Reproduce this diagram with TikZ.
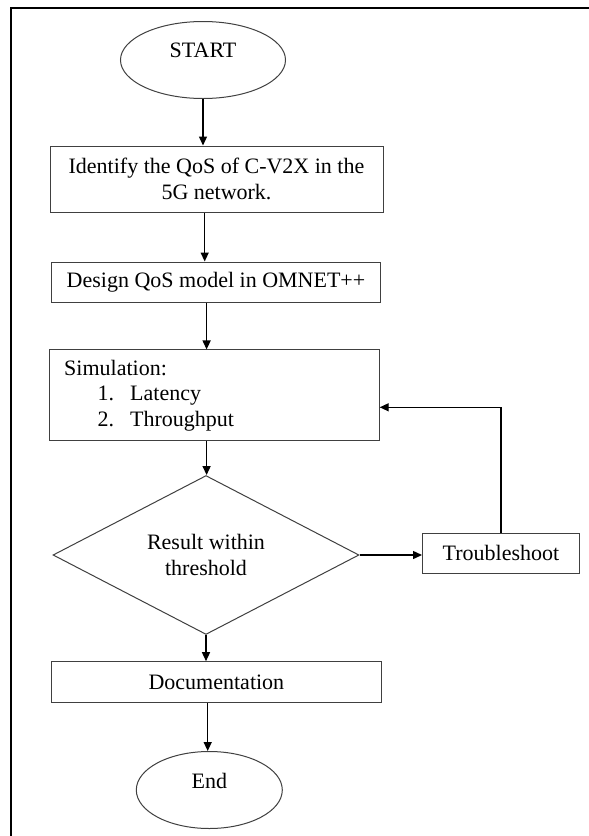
\documentclass[tikz,border=0pt]{standalone}
\usepackage{fontspec}
\setmainfont{Liberation Serif}
\usetikzlibrary{shapes.geometric,arrows.meta}
\begin{document}
\begin{tikzpicture}[x=1pt,y=-1pt,
  every node/.style={font=\fontsize{22}{25.5}\selectfont, inner sep=0pt},
  boxstyle/.style={draw=black!75, line width=1pt, rectangle, align=center},
  ovalstyle/.style={draw=black!75, line width=1pt, ellipse},
  arr/.style={line width=1.4pt, -{Triangle[length=9pt,width=8pt]}}]
\useasboundingbox (0,0) rectangle (589,836);
\fill[white] (0,0) rectangle (589,836);
% frame
\draw[line width=2pt] (11.3,840) -- (11.3,7.7) -- (592,7.7);
% nodes
\node[ovalstyle, minimum width=165pt, minimum height=77pt,
  label={[yshift=10pt]center:START}] (start) at (203,60) {};
\node[boxstyle, minimum width=333pt, minimum height=66pt] (box1) at (216.5,179)
  {Identify the QoS of C-V2X in the\\5G network.};
\node[boxstyle, minimum width=329pt, minimum height=40pt] (box2) at (216,282)
  {Design QoS model in OMNET++};
\node[boxstyle, align=left, text width=300pt, inner xsep=15pt, minimum height=90.7pt] (box3) at (214.2,395.3)
  {Simulation:\\
   \hspace*{33.3pt}\makebox[32.7pt][l]{1.}Latency\\
   \hspace*{33.3pt}\makebox[32.7pt][l]{2.}Throughput};
\node[draw=black!75, line width=1pt, diamond, minimum width=306pt, minimum height=122pt, align=center] (dia) at (206,555)
  {Result within\\threshold};
\node[boxstyle, minimum width=157pt, minimum height=40pt] (trouble) at (501,553.3)
  {Troubleshoot};
\node[boxstyle, minimum width=330pt, minimum height=41pt] (doc) at (216.4,682.2)
  {Documentation};
\node[ovalstyle, minimum width=146pt, minimum height=77pt,
  label={[yshift=9pt]center:End}] (end) at (209.3,790) {};
% connectors
\draw[arr] (start.south) -- (start.south |- box1.north);
\draw[arr] (box1.south -| 204.7,0) -- (box2.north -| 204.7,0);
\draw[arr] (box2.south -| 206.6,0) -- (box3.north -| 206.6,0);
\draw[arr] (box3.south -| 206.6,0) -- (dia.north -| 206.6,0);
\draw[arr] (dia.east) -- (dia.east -| trouble.west);
\draw[arr] (trouble.north) |- (box3.east |- 0,407.3);
\draw[arr] (dia.south) -- (dia.south |- doc.north);
\draw[arr] (doc.south -| 207.7,0) -- (end.north -| 207.7,0);
\end{tikzpicture}
\end{document}
